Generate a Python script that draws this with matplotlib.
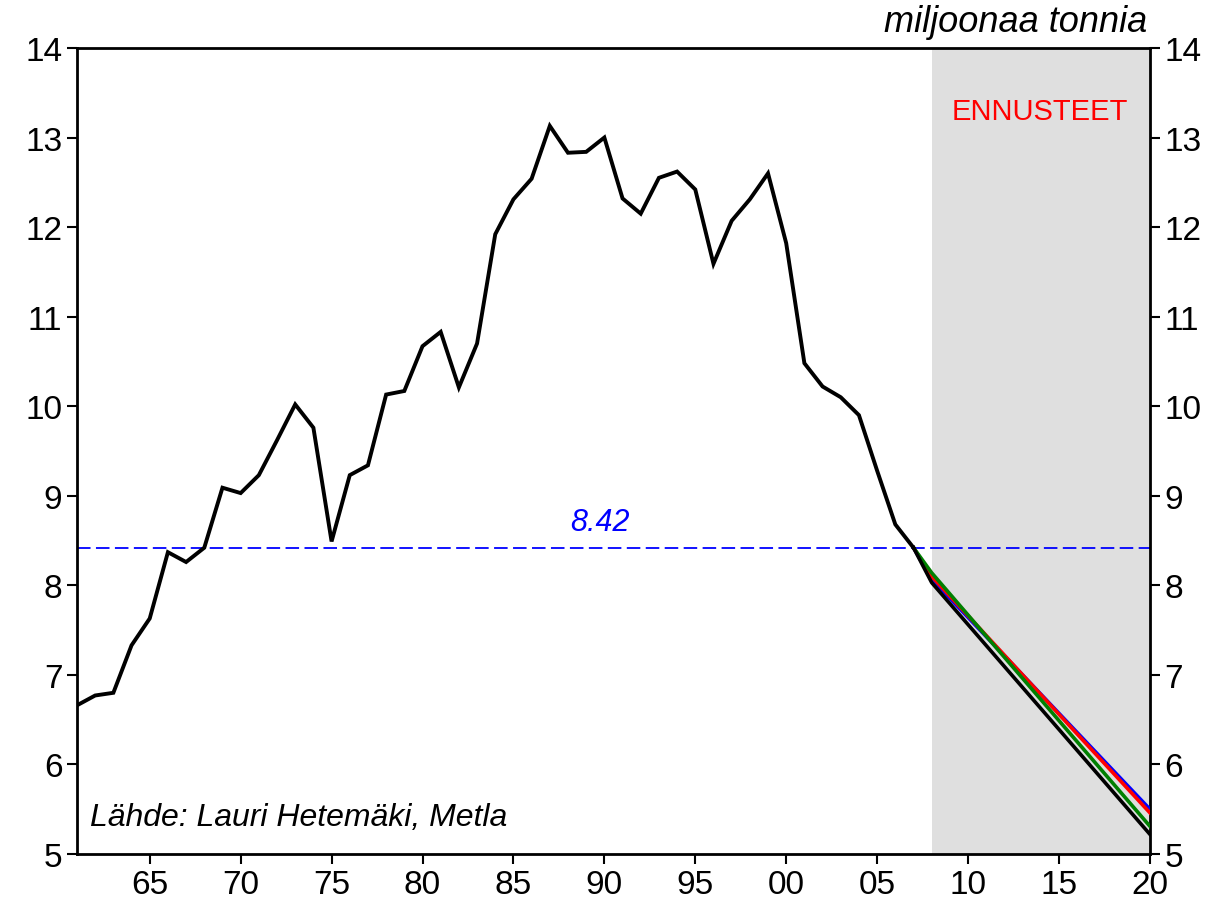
import matplotlib
matplotlib.use("Agg")
import matplotlib.pyplot as plt
from matplotlib import font_manager

names = {f.name for f in font_manager.fontManager.ttflist}
fam = ['Liberation Sans Narrow'] if 'Liberation Sans Narrow' in names else []
plt.rcParams['font.family'] = fam + ['Liberation Sans', 'DejaVu Sans']

years = list(range(1961, 2008))
values = [6.66, 6.77, 6.80, 7.33, 7.63, 8.37, 8.26, 8.42, 9.09, 9.03,
          9.23, 9.62, 10.02, 9.76, 8.49, 9.23, 9.34, 10.13, 10.17, 10.67,
          10.83, 10.21, 10.70, 11.92, 12.31, 12.54, 13.13, 12.83, 12.84, 13.00,
          12.32, 12.15, 12.55, 12.62, 12.42, 11.59, 12.07, 12.31, 12.60, 11.82,
          10.48, 10.22, 10.10, 9.90, 9.28, 8.68, 8.42]

fc_years = [2007, 2008, 2020]
fc_blue = [8.42, 8.07, 5.50]
fc_red = [8.42, 8.10, 5.46]
fc_green = [8.42, 8.14, 5.31]
fc_black = [8.42, 8.03, 5.22]

ref_level = 8.42
xtick_years = [1965, 1970, 1975, 1980, 1985, 1990, 1995, 2000, 2005, 2010, 2015, 2020]
xtick_labels = ['65', '70', '75', '80', '85', '90', '95', '00', '05', '10', '15', '20']
yticks = [5, 6, 7, 8, 9, 10, 11, 12, 13, 14]

fig = plt.figure(figsize=(12.22, 9.12), dpi=100)
ax = fig.add_axes([0.063, 0.0625, 0.878, 0.8838])

ax.axvspan(2008, 2020, color='#dfdfdf', lw=0, zorder=0)
ax.axhline(ref_level, color='blue', lw=1.3, dashes=(7.5, 3), zorder=1)

ax.plot(years, values, color='black', lw=2.8, zorder=5, solid_joinstyle='miter')
ax.plot(fc_years, fc_blue, color='blue', lw=2.6, zorder=3)
ax.plot(fc_years, fc_red, color='red', lw=2.6, zorder=3)
ax.plot(fc_years, fc_green, color='green', lw=2.6, zorder=3)
ax.plot(fc_years, fc_black, color='black', lw=2.6, zorder=4)

ax.set_xlim(1961, 2020)
ax.set_ylim(5, 14)
ax.set_xticks(xtick_years)
ax.set_xticklabels(xtick_labels)
ax.set_yticks(yticks)
ax.tick_params(axis='both', labelsize=24, length=7, width=1.5, direction='out')
ax.tick_params(axis='y', right=True, labelright=True)
for s in ax.spines.values():
    s.set_linewidth(2)

ax.text(1040 / 1222, 1 - 112 / 912, 'ENNUSTEET', transform=fig.transFigure,
        color='red', fontsize=21, ha='center', va='center')
ax.text(0.939, 1 - 22 / 912, 'miljoonaa tonnia', transform=fig.transFigure,
        fontsize=26, style='italic', ha='right', va='center')
ax.text(600 / 1222, 1 - 523 / 912, '8.42', transform=fig.transFigure,
        color='blue', fontsize=22, style='italic', ha='center', va='center')
ax.text(90 / 1222, 1 - 818 / 912, 'Lähde: Lauri Hetemäki, Metla', transform=fig.transFigure,
        fontsize=23, style='italic', ha='left', va='center')

fig.savefig('out.png', dpi=100)
